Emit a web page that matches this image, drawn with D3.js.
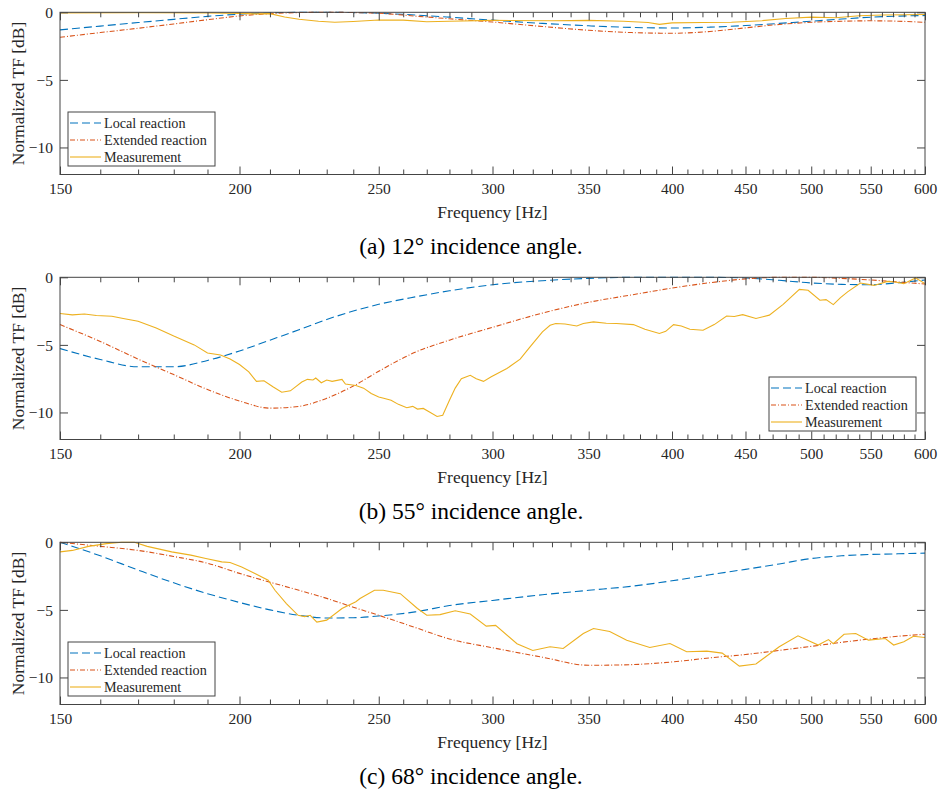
<!DOCTYPE html>
<html>
<head>
<meta charset="utf-8">
<script src="https://cdn.jsdelivr.net/npm/d3@7"></script>
<style>
  body { margin: 0; background: #fff; }
  svg { font-family: "Liberation Serif", "Times New Roman", serif; }
</style>
</head>
<body>
<div id="chart"></div>
<script>
// frequency grid used by the two model curves
const freqModel = [150,160,170,180,190,200,210,220,230,240,250,265,280,300,325,350,375,400,425,450,475,500,525,550,575,600];

// (a) 12 deg
const localA    = [-1.30,-1.02,-0.76,-0.52,-0.30,-0.14,-0.05,0,0,-0.02,-0.07,-0.20,-0.36,-0.58,-0.82,-1.00,-1.12,-1.16,-1.10,-0.98,-0.82,-0.66,-0.50,-0.36,-0.28,-0.24];
const extendedA = [-1.85,-1.50,-1.18,-0.86,-0.55,-0.27,-0.10,-0.02,0,-0.02,-0.07,-0.28,-0.48,-0.72,-1.05,-1.33,-1.50,-1.55,-1.42,-1.15,-0.90,-0.74,-0.66,-0.63,-0.66,-0.74];
const measFreqA = [150,170,190,200,205,210,215,220,227,233,240,250,260,270,280,300,330,350,370,385,392,400,420,440,462,480,500,520,540,560,580,600];
const measA     = [-0.05,-0.03,-0.05,-0.08,-0.12,-0.10,-0.35,-0.52,-0.66,-0.74,-0.68,-0.57,-0.58,-0.70,-0.66,-0.60,-0.62,-0.60,-0.66,-0.75,-0.89,-0.78,-0.76,-0.74,-0.62,-0.46,-0.36,-0.40,-0.25,-0.20,-0.18,-0.16];

// (b) 55 deg
const localB    = [-5.27,-6.08,-6.62,-6.62,-6.15,-5.45,-4.65,-3.88,-3.12,-2.50,-2.00,-1.45,-1.00,-0.55,-0.25,-0.08,0,0,0,-0.05,-0.22,-0.42,-0.52,-0.55,-0.40,-0.20];
const extendedB = [-3.50,-4.75,-6.05,-7.20,-8.30,-9.15,-9.68,-9.55,-8.95,-8.05,-6.95,-5.55,-4.65,-3.70,-2.65,-1.85,-1.30,-0.80,-0.40,-0.12,0,0,-0.08,-0.20,-0.35,-0.50];
const measFreqB = [150,153,156,159,163,166,170,175,180,186,190,194,197,200,203,205.5,208,211,214,217,221,223,225,226,228,230,232,235.7,237,241,244,247,250,252,255,258,261.5,264,266,268.5,271,274.5,277,280,282.6,285.4,289.5,292.3,295.7,299.4,307,313.6,318.6,325,329,332,337,343.4,347,352.7,360,366,376,383,392,396,401,406,411.6,420.4,428,436.6,442,448,457.6,467.5,478,490.6,497.5,507,512,518,524,530,541,553,565,572,580,591,600];
const measB     = [-2.68,-2.78,-2.72,-2.83,-2.88,-3.05,-3.25,-3.75,-4.35,-5.00,-5.60,-5.75,-6.05,-6.45,-7.00,-7.70,-7.65,-8.10,-8.50,-8.40,-7.75,-7.55,-7.60,-7.45,-7.80,-7.60,-7.70,-7.55,-7.90,-8.00,-8.20,-8.60,-8.85,-8.95,-9.10,-9.40,-9.65,-9.55,-9.75,-9.70,-9.95,-10.30,-10.20,-9.10,-8.20,-7.50,-7.25,-7.50,-7.70,-7.36,-6.75,-6.06,-5.15,-4.04,-3.55,-3.42,-3.45,-3.60,-3.42,-3.30,-3.40,-3.42,-3.50,-3.85,-4.16,-4.00,-3.50,-3.60,-3.84,-3.92,-3.50,-2.86,-2.90,-2.76,-3.05,-2.80,-2.00,-0.89,-0.96,-1.70,-1.65,-2.02,-1.50,-1.08,-0.42,-0.60,-0.30,-0.35,-0.47,-0.05,-0.47];

// (c) 68 deg
const localC    = [0,-1.00,-2.05,-3.00,-3.80,-4.45,-5.00,-5.40,-5.60,-5.58,-5.45,-5.15,-4.68,-4.30,-3.88,-3.55,-3.25,-2.85,-2.40,-2.00,-1.60,-1.20,-1.00,-0.90,-0.85,-0.80];
const extendedC = [0,-0.30,-0.60,-1.05,-1.55,-2.30,-2.95,-3.55,-4.15,-4.80,-5.40,-6.30,-7.15,-7.80,-8.50,-9.10,-9.05,-8.85,-8.55,-8.30,-8.00,-7.70,-7.40,-7.15,-6.95,-6.80];
const measFreqC = [150,153,157,161.6,165.6,169,172.5,179.4,185,189.5,194.4,197,200.7,205,209.4,211.7,215.6,219.7,222,224,226.4,230,235.7,241,242.6,248.3,251.8,258.8,266,270,275.8,282.6,289.5,297,301.5,312,320,329,336,347,352.7,362,372,386,398.7,409.5,423,433.5,445.6,457.6,475,489.5,505.6,514,518,527,537,548,563,570.6,580,589,600];
const measC     = [-0.71,-0.60,-0.30,-0.10,0,0,-0.30,-0.71,-0.95,-1.20,-1.45,-1.50,-1.82,-2.30,-2.80,-3.55,-4.53,-5.40,-5.50,-5.40,-5.90,-5.76,-4.90,-4.40,-4.16,-3.55,-3.55,-3.80,-4.90,-5.40,-5.35,-5.07,-5.30,-6.20,-6.15,-7.50,-8.00,-7.73,-7.86,-6.75,-6.38,-6.60,-7.24,-7.78,-7.49,-8.10,-8.05,-8.20,-9.16,-9.00,-7.73,-6.92,-7.60,-7.20,-7.50,-6.80,-6.75,-7.24,-7.12,-7.60,-7.36,-6.95,-7.04];

const xTicks = [150,200,250,300,350,400,450,500,550,600];
const xMinor = d3.range(160, 600, 10).filter(d => d % 50 !== 0);
const yTicks = [-10,-5,0];
const seriesNames = ["Local reaction", "Extended reaction", "Measurement"];
const captions = ["(a) 12\u00B0 incidence angle.", "(b) 55\u00B0 incidence angle.", "(c) 68\u00B0 incidence angle."];

const colors = ["#0072BD", "#D95319", "#EDB120"];
const dashes = ["8,4", "5,2,1,2", null];

const panels = [
  {local: localA, ext: extendedA, mf: measFreqA, m: measA, legendX: 68},
  {local: localB, ext: extendedB, mf: measFreqB, m: measB, legendX: 769},
  {local: localC, ext: extendedC, mf: measFreqC, m: measC, legendX: 68}
];

const width = 943, height = 794;
const plotLeft = 60, plotRight = 925, plotTop = 12.3, plotBottom = 174.5;
const axisColor = "#444", textColor = "#262626";

const svg = d3.select("#chart").append("svg")
  .attr("width", width)
  .attr("height", height);

const x = d3.scaleLog().domain([150, 600]).range([plotLeft, plotRight]);
const y = d3.scaleLinear().domain([-12, 0]).range([plotBottom, plotTop]);

const line = d3.line()
  .x(d => x(d[0]))
  .y(d => y(d[1]));

panels.forEach(function(p, i) {
  const g = svg.append("g").attr("transform", "translate(0," + (i * 265) + ")");

  // curves
  const series = [
    freqModel.map((f, k) => [f, p.local[k]]),
    freqModel.map((f, k) => [f, p.ext[k]]),
    p.mf.map((f, k) => [f, p.m[k]])
  ];
  const plot = g.append("g");
  series.forEach(function(s, k) {
    plot.append("path")
      .datum(s)
      .attr("fill", "none")
      .attr("stroke", colors[k])
      .attr("stroke-width", 1.1)
      .attr("stroke-dasharray", dashes[k])
      .attr("d", k < 2 ? line.curve(d3.curveMonotoneX)(s) : line.curve(d3.curveLinear)(s));
  });

  // axes
  g.append("g")
    .attr("transform", "translate(0," + plotBottom + ")")
    .call(d3.axisBottom(x).tickValues(xTicks).tickFormat(d3.format("d"))
      .tickSizeInner(-8).tickSizeOuter(0).tickPadding(8));
  g.append("g")
    .attr("transform", "translate(0," + plotBottom + ")")
    .call(d3.axisBottom(x).tickValues(xMinor).tickFormat("").tickSizeInner(-5).tickSizeOuter(0));
  g.append("g")
    .attr("transform", "translate(0," + plotTop + ")")
    .call(d3.axisTop(x).tickValues(xTicks).tickFormat("").tickSizeInner(-8).tickSizeOuter(0));
  g.append("g")
    .attr("transform", "translate(0," + plotTop + ")")
    .call(d3.axisTop(x).tickValues(xMinor).tickFormat("").tickSizeInner(-5).tickSizeOuter(0));
  const leftAxis = g.append("g")
    .attr("transform", "translate(" + plotLeft + ",0)")
    .call(d3.axisLeft(y).tickValues(yTicks).tickFormat(d3.format("d"))
      .tickSizeInner(-8).tickSizeOuter(0).tickPadding(7));
  g.append("g")
    .attr("transform", "translate(" + plotRight + ",0)")
    .call(d3.axisRight(y).tickValues(yTicks).tickFormat("").tickSizeInner(-8).tickSizeOuter(0));

  g.selectAll(".domain").remove();
  g.selectAll(".tick line").attr("stroke", axisColor);
  g.selectAll(".tick text")
    .attr("fill", textColor)
    .style("font-family", "Liberation Serif")
    .style("font-size", "15.5px");
  leftAxis.selectAll(".tick text").attr("dy", "0.34em");

  g.append("rect")
    .attr("x", plotLeft).attr("y", plotTop)
    .attr("width", plotRight - plotLeft).attr("height", plotBottom - plotTop)
    .attr("fill", "none")
    .attr("stroke", axisColor)
    .attr("stroke-width", 1);

  // labels
  g.append("text")
    .attr("x", (plotLeft + plotRight) / 2)
    .attr("y", 217.5)
    .attr("text-anchor", "middle")
    .attr("font-size", "17.5px")
    .attr("fill", textColor)
    .text("Frequency [Hz]");

  g.append("text")
    .attr("transform", "translate(24," + ((plotTop + plotBottom) / 2) + ") rotate(-90)")
    .attr("text-anchor", "middle")
    .attr("font-size", "17.5px")
    .attr("fill", textColor)
    .text("Normalized TF [dB]");

  g.append("text")
    .attr("x", 471)
    .attr("y", 254)
    .attr("text-anchor", "middle")
    .attr("font-size", "23.5px")
    .attr("fill", "#000")
    .text(captions[i]);

  // legend
  const lg = g.append("g").attr("transform", "translate(" + p.legendX + ",112)");
  lg.append("rect")
    .attr("width", 147).attr("height", 54)
    .attr("fill", "#fff")
    .attr("stroke", axisColor)
    .attr("stroke-width", 1);
  seriesNames.forEach(function(name, k) {
    const yy = 11 + k * 17;
    lg.append("line")
      .attr("x1", 2).attr("x2", 33)
      .attr("y1", yy).attr("y2", yy)
      .attr("stroke", colors[k])
      .attr("stroke-width", 1.1)
      .attr("stroke-dasharray", dashes[k]);
    lg.append("text")
      .attr("x", 36)
      .attr("y", yy)
      .attr("dy", "0.33em")
      .attr("font-size", "14.2px")
      .attr("fill", textColor)
      .text(name);
  });
});
</script>
</body>
</html>
